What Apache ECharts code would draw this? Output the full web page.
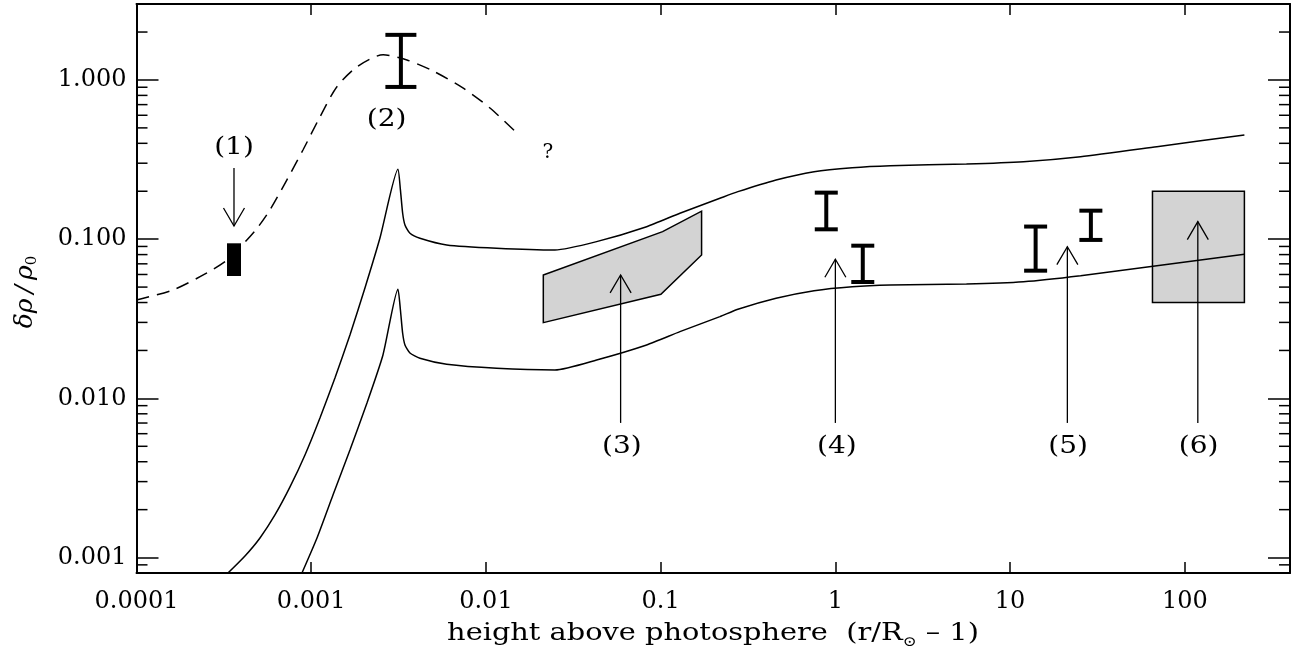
<!DOCTYPE html>
<html><head><meta charset="utf-8">
<script src="https://cdn.jsdelivr.net/npm/echarts@6/dist/echarts.min.js"></script>
<style>html,body{margin:0;padding:0;background:#fff}#c{width:1294px;height:654px}</style>
</head><body><div id="c"></div>
<script>
// ---- tick labels ----
const xTickLabels = ['0.0001','0.001','0.01','0.1','1','10','100'];   // 10^-4 .. 10^2
const yTickLabels = ['0.001','0.010','0.100','1.000'];                 // 10^-3 .. 10^0
const yMinorTicks = [0.0009,0.002,0.003,0.004,0.005,0.006,0.007,0.008,0.009,
  0.02,0.03,0.04,0.05,0.06,0.07,0.08,0.09,0.2,0.3,0.4,0.5,0.6,0.7,0.8,0.9,2];

// ---- model curves ----
const upperX = [3.339e-4,4.177e-4,5.09e-4,6.20e-4,7.56e-4,9.21e-4,1.122e-3,1.367e-3,1.666e-3,2.03e-3,2.474e-3,3.135e-3,3.24e-3,3.337e-3,3.44e-3,3.674e-3,4.19e-3,5.96e-3,0.01151,0.02482,0.04299,0.0831,0.1289,0.2183,0.2767,0.4576,0.7552,1.248,2.062,5.627,11.94,25.33,69.17,219.3];
const upperY = [8.0e-4,1.023e-3,1.328e-3,1.852e-3,2.777e-3,4.41e-3,7.53e-3,0.01343,0.025,0.0494,0.1017,0.275,0.204,0.1455,0.1228,0.1089,0.1013,0.092,0.0877,0.0855,0.0965,0.1198,0.1455,0.1806,0.1988,0.2354,0.2655,0.2812,0.2894,0.2968,0.3068,0.3298,0.3811,0.4513];
const lowerX = [8.85e-4,1.079e-3,1.332e-3,1.666e-3,2.085e-3,2.574e-3,3.135e-3,3.24e-3,3.337e-3,3.44e-3,3.674e-3,4.19e-3,5.96e-3,0.01151,0.02482,0.04299,0.0831,0.1289,0.2183,0.2767,0.4576,0.7552,1.248,2.062,5.627,11.94,25.33,69.17,219.3];
const lowerY = [8.0e-4,1.328e-3,2.473e-3,4.74e-3,9.36e-3,0.01874,0.0485,0.0359,0.02564,0.02165,0.01928,0.01786,0.01638,0.01546,0.01508,0.01742,0.02165,0.02624,0.0326,0.03628,0.04254,0.04747,0.05029,0.05155,0.05231,0.05408,0.05898,0.06817,0.08036];
const dashX = [1e-4,1.62e-4,2.53e-4,3.30e-4,4.18e-4,4.9e-4,5.81e-4,7.26e-4,8.97e-4,1.122e-3,1.40e-3,1.83e-3,2.58e-3,3.53e-3,4.98e-3,7.38e-3,0.01054,0.01503];
const dashY = [0.0415,0.048,0.0614,0.074,0.096,0.117,0.153,0.236,0.363,0.586,0.904,1.21,1.44,1.335,1.139,0.891,0.667,0.465];

// ---- observations ----
const obs1X = [3.295e-4, 3.963e-4];   const obs1Y = [0.0587, 0.0942];
const err2X = [3.26e-3];  const err2Lo = [0.904];  const err2Hi = [1.92];
const errX  = [0.887, 1.435, 14.0, 29.0];
const errLo = [0.1153, 0.0538, 0.0634, 0.0989];
const errHi = [0.196, 0.091, 0.12, 0.151];
const poly3X = [0.0213, 0.1026, 0.1715, 0.1715, 0.1003, 0.0213];
const poly3Y = [0.0596, 0.1115, 0.150, 0.0796, 0.0451, 0.0299];
const box6X = [65.3, 219.3];  const box6Y = [0.04, 0.2];

// ---- arrows & labels ----
const arrowX    = [3.614e-4, 0.059, 1.0, 21.27, 118.7];
const arrowTail = [0.28, 0.00701, 0.00701, 0.00701, 0.00701];
const arrowTip  = [0.121, 0.0596, 0.0748, 0.0897, 0.129];
const labelText = ['(1)','(2)','?','(3)','(4)','(5)','(6)'];
const labelX    = [3.614e-4, 2.703e-3, 0.02265, 0.06, 1.02, 21.5, 120];
const labelY    = [0.374, 0.561, 0.348, 0.005, 0.005, 0.005, 0.005];

const zip = (a, b) => a.map((v, i) => [v, b[i]]);
const FONT = 'DejaVu Serif';
const BLACK = '#000';

function isPow10(v){ const l = Math.log10(v); return Math.abs(l - Math.round(l)) < 1e-6; }

function errRender(capHalf){
  return function(params, api){
    const x = api.value(0);
    const a = api.coord([x, api.value(1)]), b = api.coord([x, api.value(2)]);
    const st = {stroke: BLACK, lineWidth: 4};
    return {type:'group', children:[
      {type:'line', shape:{x1:a[0], y1:a[1], x2:b[0], y2:b[1]}, style: st},
      {type:'line', shape:{x1:a[0]-capHalf, y1:a[1], x2:a[0]+capHalf, y2:a[1]}, style: st},
      {type:'line', shape:{x1:b[0]-capHalf, y1:b[1], x2:b[0]+capHalf, y2:b[1]}, style: st}
    ]};
  };
}
function rectRender(fill, stroke){
  return function(params, api){
    const p0 = api.coord([api.value(0), api.value(3)]);
    const p1 = api.coord([api.value(1), api.value(2)]);
    return {type:'rect', shape:{x:p0[0], y:p0[1], width:p1[0]-p0[0], height:p1[1]-p0[1]},
      style:{fill: fill, stroke: stroke, lineWidth: stroke ? 1.5 : 0}};
  };
}
function polyRender(params, api){
  const pts = poly3X.map((x, i) => api.coord([x, poly3Y[i]]));
  return {type:'polygon', shape:{points: pts}, style:{fill:'#d3d3d3', stroke: BLACK, lineWidth: 1.5}};
}
function arrowRender(params, api){
  const x = api.value(0);
  const a = api.coord([x, api.value(1)]), b = api.coord([x, api.value(2)]);
  const dir = Math.sign(b[1] - a[1]);
  const hl = 18, hw = 10.5;
  return {type:'group', children:[
    {type:'line', shape:{x1:a[0], y1:a[1], x2:b[0], y2:b[1]}, style:{stroke: BLACK, lineWidth: 1.3}},
    {type:'polyline', shape:{points:[[b[0]-hw, b[1]-dir*hl],[b[0], b[1]],[b[0]+hw, b[1]-dir*hl]]},
      style:{stroke: BLACK, fill: 'none', lineWidth: 1.3}}
  ]};
}
function labelRender(params, api){
  const p = api.coord([api.value(0), api.value(1)]);
  const t = labelText[params.dataIndex];
  return {type:'text', x: p[0], y: p[1], scaleX: t === '?' ? 1 : 1.12, style:{text: t, fill: BLACK, fontFamily: FONT,
    fontSize: t === '?' ? 20 : 25, align:'center', verticalAlign:'middle'}};
}
function minorRender(params, api){
  const cs = params.coordSys;
  const y = api.coord([1, api.value(1)])[1];
  const st = {stroke: BLACK, lineWidth: 1.5};
  return {type:'group', children:[
    {type:'line', shape:{x1:cs.x, y1:y, x2:cs.x+11, y2:y}, style: st},
    {type:'line', shape:{x1:cs.x+cs.width, y1:y, x2:cs.x+cs.width-11, y2:y}, style: st}
  ]};
}

const axisLine = {show:true, onZero:false, lineStyle:{color: BLACK, width: 2}};
const xBase = {type:'log', logBase:10, min:1e-4, max:400, splitNumber:7, splitLine:{show:false}, axisLine: axisLine};
const yBase = {type:'log', logBase:10, min:0.0008, max:3, splitNumber:5, splitLine:{show:false}, axisLine: axisLine};

const option = {
  animation: false,
  backgroundColor: '#fff',
  grid: {left: 136.5, right: 4, top: 4, bottom: 81},
  xAxis: [
    Object.assign({}, xBase, {position:'bottom',
      axisTick:{inside:true, length:11, lineStyle:{color: BLACK, width: 1.5}},
      axisLabel:{margin: 17, color: BLACK, fontFamily: FONT, fontSize: 24,
        formatter: v => isPow10(v) ? (xTickLabels[Math.round(Math.log10(v)) + 4] || '') : ''}}),
    Object.assign({}, xBase, {position:'top',
      axisTick:{inside:true, length:11, lineStyle:{color: BLACK, width: 1.5}},
      axisLabel:{show:false}})
  ],
  yAxis: [
    Object.assign({}, yBase, {position:'left',
      axisTick:{inside:true, length:22, lineStyle:{color: BLACK, width: 1.5}},
      axisLabel:{margin: 10, color: BLACK, fontFamily: FONT, fontSize: 24,
        formatter: v => isPow10(v) ? (yTickLabels[Math.round(Math.log10(v)) + 3] || '') : ''}}),
    Object.assign({}, yBase, {position:'right',
      axisTick:{inside:true, length:22, lineStyle:{color: BLACK, width: 1.5}},
      axisLabel:{show:false}})
  ],
  graphic: [
    {type:'text', x: 25, y: 292, rotation: Math.PI/2,
      style:{text:'{a|δρ\u2009/\u2009ρ}{s|0}', align:'center', verticalAlign:'middle',
        rich:{a:{fontFamily: FONT, fontStyle:'italic', fontSize: 25, lineHeight: 30, fill: BLACK},
              s:{fontFamily: FONT, fontSize: 15, lineHeight: 16, verticalAlign:'bottom', fill: BLACK}}}},
    {type:'text', x: 713, y: 634, scaleX: 1.2,
      style:{text:'{a|height above photosphere  (r/R}{s|⊙}{a| – 1)}', align:'center', verticalAlign:'middle',
        rich:{a:{fontFamily: FONT, fontSize: 24, lineHeight: 30, fill: BLACK},
              s:{fontFamily: FONT, fontSize: 14, lineHeight: 14, verticalAlign:'bottom', fill: BLACK}}}}
  ],
  series: [
    {type:'custom', z:1, silent:true, clip:true, renderItem: rectRender('#d3d3d3', BLACK),
      encode:{x:[0,1], y:[2,3]}, data:[[box6X[0], box6X[1], box6Y[0], box6Y[1]]]},
    {type:'custom', z:1, silent:true, clip:true, renderItem: polyRender,
      encode:{x:0, y:1}, data:[[poly3X[0], poly3Y[0]]]},
    {type:'line', z:2, silent:true, showSymbol:false, symbol:'none', clip:true, smooth:0.2,
      lineStyle:{color: BLACK, width: 1.5}, data: zip(upperX, upperY)},
    {type:'line', z:2, silent:true, showSymbol:false, symbol:'none', clip:true, smooth:0.2,
      lineStyle:{color: BLACK, width: 1.5}, data: zip(lowerX, lowerY)},
    {type:'line', z:2, silent:true, showSymbol:false, symbol:'none', clip:true, smooth:0.25,
      lineStyle:{color: BLACK, width: 1.5, type:[13, 8]}, data: zip(dashX, dashY)},
    {type:'custom', z:3, silent:true, renderItem: rectRender(BLACK, null),
      encode:{x:[0,1], y:[2,3]}, data:[[obs1X[0], obs1X[1], obs1Y[0], obs1Y[1]]]},
    {type:'custom', z:3, silent:true, renderItem: errRender(15.5),
      encode:{x:0, y:[1,2]}, data: err2X.map((x, i) => [x, err2Lo[i], err2Hi[i]])},
    {type:'custom', z:3, silent:true, renderItem: errRender(11.5),
      encode:{x:0, y:[1,2]}, data: errX.map((x, i) => [x, errLo[i], errHi[i]])},
    {type:'custom', z:3, silent:true, renderItem: arrowRender,
      encode:{x:0, y:[1,2]}, data: arrowX.map((x, i) => [x, arrowTail[i], arrowTip[i]])},
    {type:'custom', z:3, silent:true, renderItem: labelRender,
      encode:{x:0, y:1}, data: zip(labelX, labelY)},
    {type:'custom', z:4, silent:true, renderItem: minorRender,
      encode:{x:0, y:1}, data: yMinorTicks.map(v => [1, v])}
  ]
};
const chart = echarts.init(document.getElementById('c'), null, {renderer:'canvas'});
chart.setOption(option);
</script>
</body></html>
